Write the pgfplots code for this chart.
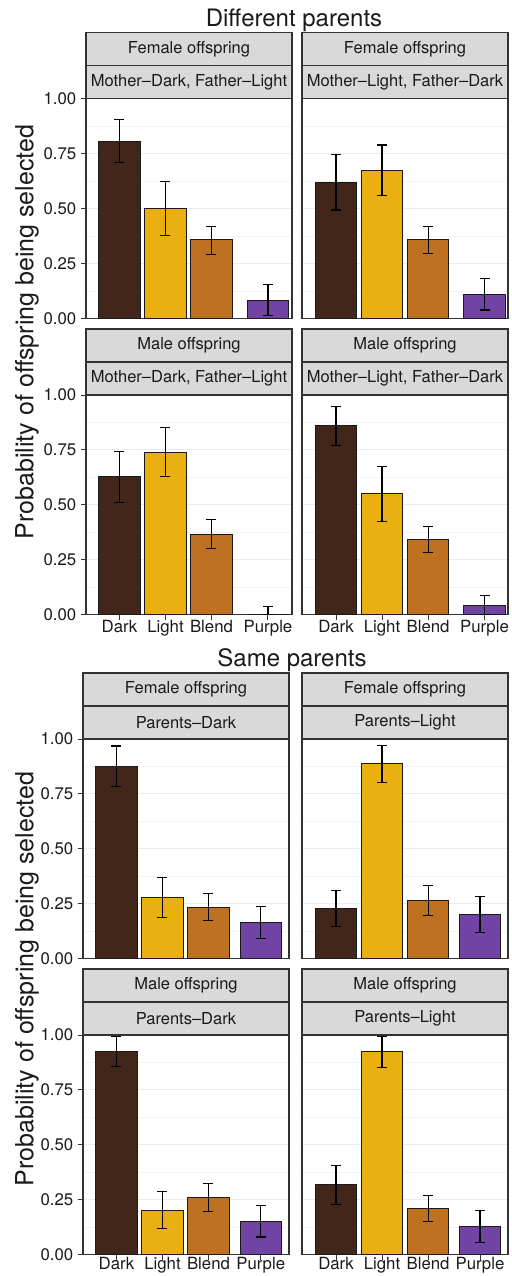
\documentclass[border=0pt]{standalone}
\usepackage{fontspec}
\setmainfont{TeX Gyre Heros}
\usepackage{pgfplots}
\pgfplotsset{compat=1.18}
\definecolor{cDark}{RGB}{66,38,26}
\definecolor{cLight}{RGB}{234,176,17}
\definecolor{cBlend}{RGB}{190,113,32}
\definecolor{cPurple}{RGB}{112,67,165}
\definecolor{bordercol}{RGB}{51,51,51}
\definecolor{stripfill}{RGB}{217,217,217}
\definecolor{gridmaj}{RGB}{235,235,235}
\definecolor{gridmin}{RGB}{244,244,244}
\definecolor{tickcol}{RGB}{26,26,26}
\definecolor{barline}{RGB}{26,26,26}

\newcommand\onebar[5]{\addplot[fill=#1] coordinates {(#2,#3) += (0,#4) -= (0,#5)};}
\newcommand\strips[3]{%
  \draw[fill=stripfill, draw=bordercol, line width=1.2pt] (#1.north west) rectangle ([yshift=33pt]#1.north east);
  \draw[fill=stripfill, draw=bordercol, line width=1.2pt] ([yshift=33pt]#1.north west) rectangle ([yshift=66pt]#1.north east);
  \node[font=\fontsize{16.5}{16.5}\selectfont, text=tickcol] at ([yshift=49.5pt]#1.north) {#2};
  \node[font=\fontsize{16.5}{16.5}\selectfont, text=tickcol] at ([yshift=16.5pt]#1.north) {#3};
}

\pgfplotsset{
  panel/.style={
    scale only axis, width=206pt, height=219.6pt, anchor=north west,
    xmin=0.272, xmax=4.75, ymin=0, ymax=1,
    ytick={0,0.25,0.5,0.75,1}, yticklabels={0.00,0.25,0.50,0.75,1.00},
    minor ytick={0.125,0.375,0.625,0.875},
    ymajorgrids, yminorgrids,
    major grid style={draw=gridmaj, line width=1.1pt},
    minor grid style={draw=gridmin, line width=0.7pt},
    minor tick length=0pt,
    major tick length=5pt,
    tick align=outside,
    xtick pos=bottom, ytick pos=left,
    tick style={draw=bordercol, line width=1pt},
    axis line style={draw=bordercol, line width=1.3pt},
    xtick=\empty,
    ticklabel style={font=\fontsize{16.8}{16.8}\selectfont, text=tickcol},
    yticklabel style={inner xsep=4.5pt},
    xticklabel style={inner ysep=0.5pt},
    every axis plot/.append style={ybar, bar width=0.9, bar shift=0pt, draw=barline, line width=1pt,
      /pgfplots/error bars/y dir=both, /pgfplots/error bars/y explicit,
      /pgfplots/error bars/error mark=|,
      /pgfplots/error bars/error bar style={black, line width=1.1pt},
      /pgfplots/error bars/error mark options={black, line width=1.1pt, mark size=5pt}},
  },
  rightcol/.style={yticklabels={}, ymajorticks=false},
  bottomrow/.style={xtick={1,2,3,#1}, xticklabels={Dark,Light,Blend,Purple}},
  lastrow/.style={xticklabel style={yshift=3pt}},
}

\begin{document}
\begin{tikzpicture}[x=1pt,y=1pt]
\useasboundingbox (0pt,0pt) rectangle (511pt,-1276pt);

% ---------------- Different parents ----------------
\node[font=\fontsize{24}{24}\selectfont, text=tickcol, anchor=base] at (294pt,-27pt) {Different parents};

\begin{axis}[panel, name=p1, at={(86pt,-98.7pt)}]
\onebar{cDark}{1}{0.807}{0.099}{0.098}
\onebar{cLight}{2}{0.499}{0.122}{0.120}
\onebar{cBlend}{3}{0.358}{0.061}{0.067}
\onebar{cPurple}{4.228}{0.082}{0.073}{0.070}
\end{axis}
\strips{p1}{Female offspring}{Mother–Dark, Father–Light}

\begin{axis}[panel, rightcol, name=p2, at={(302pt,-98.7pt)}, xmin=0.26, xmax=4.738]
\onebar{cDark}{1}{0.618}{0.126}{0.125}
\onebar{cLight}{2}{0.674}{0.115}{0.116}
\onebar{cBlend}{3}{0.358}{0.062}{0.062}
\onebar{cPurple}{4.228}{0.109}{0.073}{0.071}
\end{axis}
\strips{p2}{Female offspring}{Mother–Light, Father–Dark}

\begin{axis}[panel, bottomrow=4.228, name=p3, at={(86pt,-395pt)}]
\onebar{cDark}{1}{0.630}{0.112}{0.119}
\onebar{cLight}{2}{0.739}{0.111}{0.111}
\onebar{cBlend}{3}{0.367}{0.065}{0.064}
\onebar{cPurple}{4.228}{0}{0.038}{0}
\end{axis}
\strips{p3}{Male offspring}{Mother–Dark, Father–Light}

\begin{axis}[panel, rightcol, bottomrow=4.228, name=p4, at={(302pt,-395pt)}, xmin=0.26, xmax=4.738]
\onebar{cDark}{1}{0.859}{0.088}{0.088}
\onebar{cLight}{2}{0.551}{0.124}{0.128}
\onebar{cBlend}{3}{0.341}{0.060}{0.060}
\onebar{cPurple}{4.228}{0.041}{0.045}{0.041}
\end{axis}
\strips{p4}{Male offspring}{Mother–Light, Father–Dark}

\node[font=\fontsize{25}{25}\selectfont, text=tickcol, rotate=90] at (27pt,-332pt) {Probability of offspring being selected};

% ---------------- Same parents ----------------
\node[font=\fontsize{24}{24}\selectfont, text=tickcol, anchor=base] at (292pt,-666pt) {Same parents};

\begin{axis}[panel, name=p5, at={(83pt,-739pt)}]
\onebar{cDark}{1}{0.875}{0.093}{0.092}
\onebar{cLight}{2}{0.278}{0.090}{0.090}
\onebar{cBlend}{3}{0.234}{0.061}{0.062}
\onebar{cPurple}{4.137}{0.164}{0.072}{0.071}
\end{axis}
\strips{p5}{Female offspring}{Parents–Dark}

\begin{axis}[panel, rightcol, name=p6, at={(302pt,-739pt)}, xmin=0.26, xmax=4.738]
\onebar{cDark}{1}{0.229}{0.081}{0.082}
\onebar{cLight}{2}{0.888}{0.083}{0.084}
\onebar{cBlend}{3}{0.266}{0.067}{0.068}
\onebar{cPurple}{4.13}{0.202}{0.082}{0.082}
\end{axis}
\strips{p6}{Female offspring}{Parents–Light}

\begin{axis}[panel, bottomrow=4.137, lastrow, name=p7, at={(83pt,-1035pt)}]
\onebar{cDark}{1}{0.927}{0.068}{0.072}
\onebar{cLight}{2}{0.203}{0.086}{0.086}
\onebar{cBlend}{3}{0.259}{0.064}{0.062}
\onebar{cPurple}{4.137}{0.152}{0.072}{0.072}
\end{axis}
\strips{p7}{Male offspring}{Parents–Dark}

\begin{axis}[panel, rightcol, bottomrow=4.13, lastrow, name=p8, at={(302pt,-1035pt)}, xmin=0.26, xmax=4.738]
\onebar{cDark}{1}{0.318}{0.088}{0.089}
\onebar{cLight}{2}{0.926}{0.069}{0.073}
\onebar{cBlend}{3}{0.209}{0.061}{0.057}
\onebar{cPurple}{4.13}{0.126}{0.076}{0.071}
\end{axis}
\strips{p8}{Male offspring}{Parents–Light}

\node[font=\fontsize{25}{25}\selectfont, text=tickcol, rotate=90] at (27pt,-979pt) {Probability of offspring being selected};
\end{tikzpicture}
\end{document}
